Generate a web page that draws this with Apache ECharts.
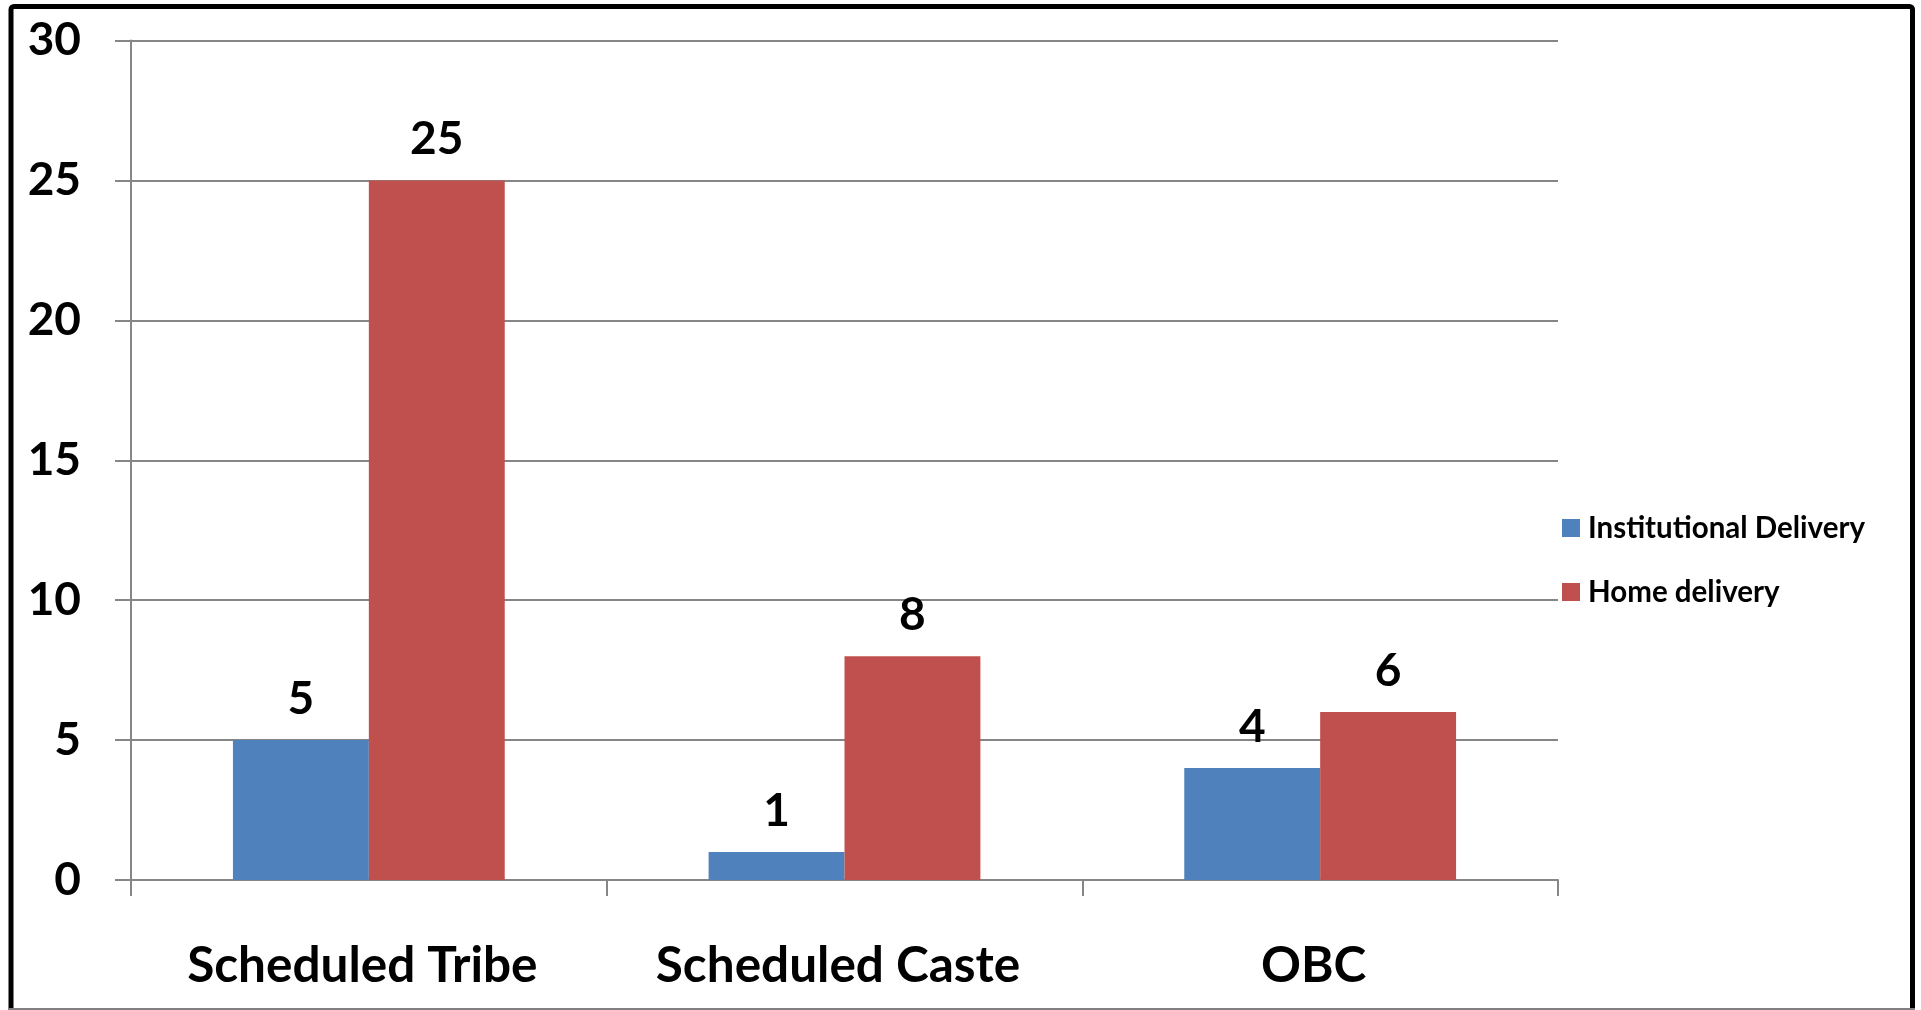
<!DOCTYPE html>
<html>
<head>
<meta charset="utf-8">
<script src="https://cdn.jsdelivr.net/npm/echarts@6/dist/echarts.min.js"></script>
<style>
html,body{margin:0;padding:0;background:#fff;}
#chart{width:1921px;height:1010px;}
</style>
</head>
<body>
<div id="chart"></div>
<script>
const categories = ['Scheduled Tribe', 'Scheduled Caste', 'OBC'];
const seriesNames = ['Institutional Delivery', 'Home delivery'];
const institutional = [5, 1, 4];
const home = [25, 8, 6];
const yTicks = [0, 5, 10, 15, 20, 25, 30];

const FONT = 'Lato';
const chart = echarts.init(document.getElementById('chart'));
const labelStyle = {
  show: true, position: 'top', distance: 18,
  fontFamily: FONT, fontWeight: 'bold', fontSize: 46, color: '#000'
};
chart.setOption({
  animation: false,
  backgroundColor: '#fff',
  color: ['#4F81BD', '#C0504D'],
  grid: { left: 131, right: 363, top: 40.5, bottom: 130, containLabel: false },
  legend: {
    orient: 'vertical', left: 1562, top: 513, padding: 0,
    itemWidth: 18, itemHeight: 18, itemGap: 34,
    icon: 'rect',
    data: seriesNames,
    textStyle: { fontFamily: FONT, fontWeight: 'bold', fontSize: 29.5, color: '#000', padding: [0, 0, 0, 3] }
  },
  xAxis: {
    type: 'category', data: categories,
    axisLine: { lineStyle: { color: '#868686', width: 2 } },
    axisTick: { show: true, length: 16, lineStyle: { color: '#868686', width: 2 } },
    axisLabel: { interval: 0, margin: 61, fontFamily: FONT, fontWeight: 'bold', fontSize: 49.5, color: '#000', padding: [0, 13, 0, 0] }
  },
  yAxis: {
    type: 'value', min: yTicks[0], max: yTicks[yTicks.length - 1], interval: 5,
    axisLine: { show: true, lineStyle: { color: '#868686', width: 2 } },
    axisTick: { show: true, length: 16, lineStyle: { color: '#868686', width: 2 } },
    splitLine: { show: true, lineStyle: { color: '#868686', width: 2 } },
    axisLabel: { margin: 50, fontFamily: FONT, fontWeight: 'bold', fontSize: 46, color: '#000' }
  },
  series: [
    { name: seriesNames[0], type: 'bar', data: institutional, barGap: '0%', barCategoryGap: '42.86%', label: labelStyle },
    { name: seriesNames[1], type: 'bar', data: home, barGap: '0%', barCategoryGap: '42.86%', label: labelStyle }
  ],
  graphic: [
    { type: 'rect', shape: { x: 11, y: 6.5, width: 1901.5, height: 1020, r: 3 }, style: { fill: 'none', stroke: '#000', lineWidth: 5 }, z: 100 },
    { type: 'line', shape: { x1: 8, y1: 1009, x2: 1915, y2: 1009 }, style: { stroke: '#808080', lineWidth: 2 }, z: 101 }
  ]
});
</script>
</body>
</html>
